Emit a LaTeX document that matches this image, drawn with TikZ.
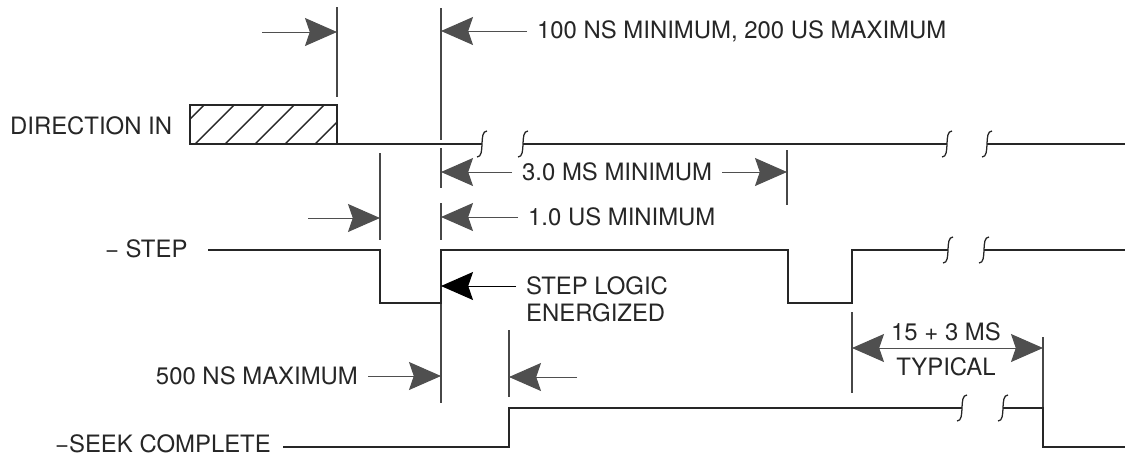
\documentclass[tikz,border=0pt]{standalone}
\usepackage{fontspec}
\setmainfont{TeX Gyre Heros}
\usepackage{xcolor}
\definecolor{encre}{HTML}{262626}
\definecolor{pointe}{HTML}{4F4F4F}
\usetikzlibrary{positioning,arrows.meta}

\begin{document}
\begin{tikzpicture}[x=0.025cm,y=-0.025cm,
  lbl/.style={font=\fontsize{17}{20}\selectfont,text=encre,inner xsep=7pt,inner ysep=0pt,anchor=west},
  sig/.style={encre,line width=1.2pt},
  tick/.style={encre!85,line width=0.8pt},
  fl/.style={-{Stealth[length=8mm,width=7mm,inset=1.2mm]},pointe,line width=0.7pt},
  brk/.pic={\draw[encre,line width=0.9pt] (5,-13) .. controls (-4,-13) and (4,13) .. (-5,13);}
]
\useasboundingbox (0,0) rectangle (1134,462);
% reperes verticaux
\coordinate (e1) at (337,0);
\coordinate (e2) at (441,0);
\coordinate (e3) at (380,0);
\coordinate (e4) at (787,0);
\coordinate (e5) at (509,0);
\draw[tick] (337,7) -- (337,97);
\draw[tick] (441,8) -- (441,140) (441,148) -- (441,188) (441,203) -- (441,240) (441,303) -- (441,403);
\draw[tick] (380,153) -- (380,240);
\draw[tick] (787,150) -- (787,205);
\draw[tick] (509,330) -- (509,397);
\draw[tick] (852,312) -- (852,393);
\draw[tick] (1043,337) -- (1043,408);
% noms des signaux
\node[lbl] (dir) at (0,126) {DIRECTION IN};
\node[lbl] (step) at (95,249) {\char"2212\ STEP};
\node[lbl] (seek) at (45,444) {\char"2212SEEK COMPLETE};
% DIRECTION IN
\draw[sig] (190,105) rectangle (337,144);
\begin{scope}
  \clip (190,105) rectangle (337,144);
  \foreach \b in {165,195,...,315}
    \draw[sig,line width=1pt] (\b,144) -- ++(40,-40);
\end{scope}
\draw[sig] (337,144) -- (482,144);
\pic at (482,144) {brk};
\pic at (523,144) {brk};
\draw[sig] (523,144) -- (947,144);
\pic at (947,144) {brk};
\pic at (987,144) {brk};
\draw[sig] (987,144) -- (1125,144);
% STEP
\draw[sig] (208,250) -- (380,250) -- (380,303) -- (441,303) -- (441,250)
  -- (788,250) -- (788,303) -- (852,303) -- (852,250) -- (948,250);
\pic at (948,250) {brk};
\pic at (984,250) {brk};
\draw[sig] (984,250) -- (1125,250);
% SEEK COMPLETE
\draw[sig] (283,447) -- (509,447) -- (509,408) -- (962,408);
\pic at (962,408) {brk};
\pic at (1003,408) {brk};
\draw[sig] (1003,408) -- (1043,408) -- (1043,447) -- (1125,447);
% cotes
\coordinate (a0) at (262,32);
\draw[fl] (a0) -- (e1 |- a0);
\node[lbl] (t100) at (527,31) {100 NS MINIMUM, 200 US MAXIMUM};
\draw[fl] (t100.west) -- (e2 |- t100.west);
\node[lbl] (t3ms) at (512,172) {3.0 MS MINIMUM};
\draw[fl] (t3ms.west) -- (e2 |- t3ms.west);
\draw[fl] (t3ms.east) -- (e4 |- t3ms.east);
\coordinate (a1) at (308,218);
\draw[fl] (a1) -- (e3 |- a1);
\node[lbl] (t1us) at (518,217) {1.0 US MINIMUM};
\draw[fl] (t1us.west) -- (e2 |- t1us.west);
\node[lbl] (logic) at (516,286) {STEP LOGIC};
\node[lbl] (energ) at (516,313) {ENERGIZED};
\draw[fl,black] (logic.west) -- (e2 |- logic.west);
\node[lbl,anchor=east] (t500) at (368,376) {500 NS MAXIMUM};
\draw[fl] (t500.east) -- (e2 |- t500.east);
\coordinate (a2) at (577,377);
\draw[fl] (a2) -- (e5 |- a2);
\coordinate (d1) at (852,348);
\coordinate (d2) at (1043,348);
\draw[{Stealth[length=8mm,width=7mm,inset=1.2mm]}-{Stealth[length=8mm,width=7mm,inset=1.2mm]},pointe,line width=0.7pt] (d1) -- (d2);
\node[lbl,anchor=center,inner xsep=0pt] (t15) at (946,332) {15 + 3 MS};
\node[lbl,anchor=center,inner xsep=0pt] (typ) at (946,367) {TYPICAL};
\end{tikzpicture}
\end{document}
